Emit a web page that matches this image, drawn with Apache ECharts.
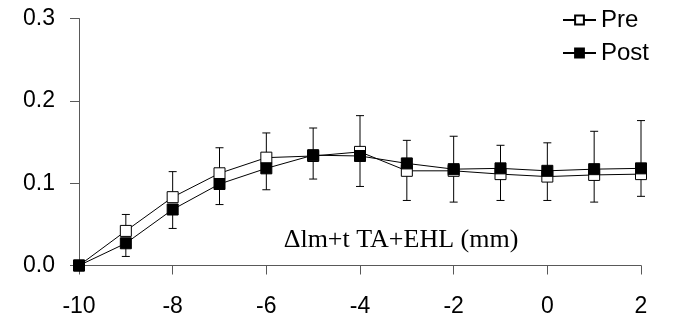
<!DOCTYPE html>
<html>
<head>
<meta charset="utf-8">
<script src="https://cdn.jsdelivr.net/npm/echarts@6/dist/echarts.min.js"></script>
<style>html,body{margin:0;padding:0;background:#fff}#c{width:673px;height:322px}</style>
</head>
<body>
<div id="c"></div>
<script>
const xValues = [-10, -9, -8, -7, -6, -5, -4, -3, -2, -1, 0, 1, 2];
const preValues = [0, 0.042, 0.083, 0.112, 0.131, 0.133, 0.138, 0.115, 0.115, 0.111, 0.108, 0.110, 0.111];
const preErrUp = [0, 0.020, 0.031, 0.031, 0.030, 0.034, 0.044, 0.037, 0.042, 0.035, 0.041, 0.053, 0.065];
const postValues = [0, 0.027, 0.068, 0.099, 0.118, 0.134, 0.133, 0.124, 0.117, 0.118, 0.115, 0.117, 0.118];
const postErrDown = [0, 0.016, 0.023, 0.025, 0.026, 0.029, 0.037, 0.045, 0.040, 0.039, 0.036, 0.040, 0.034];
const seriesNames = ['Pre', 'Post'];
const annotationText = 'Δlm+t TA+EHL (mm)';

const chart = echarts.init(document.getElementById('c'));
const sans = "'Liberation Sans', Arial, sans-serif";
const axisColor = '#595959';

function errRender(params, api) {
  const x = api.value(0), base = api.value(1), end = api.value(2);
  if (base === end) return null;
  const p1 = api.coord([x, base]);
  const p2 = api.coord([x, end]);
  const hw = 4;
  return {
    type: 'group',
    children: [
      { type: 'line', shape: { x1: p1[0], y1: p1[1], x2: p2[0], y2: p2[1] }, style: { stroke: '#000', lineWidth: 1 } },
      { type: 'line', shape: { x1: p2[0] - hw, y1: p2[1], x2: p2[0] + hw, y2: p2[1] }, style: { stroke: '#000', lineWidth: 1 } }
    ]
  };
}

const preData = xValues.map((x, i) => [x, preValues[i]]);
const postData = xValues.map((x, i) => [x, postValues[i]]);
const preErr = xValues.map((x, i) => [x, preValues[i], preValues[i] + preErrUp[i]]);
const postErr = xValues.map((x, i) => [x, postValues[i], postValues[i] - postErrDown[i]]);

chart.setOption({
  animation: false,
  backgroundColor: '#fff',
  grid: { left: 79, right: 32, top: 18.5, bottom: 56.5, containLabel: false },
  legend: {
    data: seriesNames,
    orient: 'vertical',
    left: 562, top: 8, padding: 0,
    itemWidth: 33, itemHeight: 11, itemGap: 9,
    textStyle: { fontFamily: sans, fontSize: 24, color: '#000' }
  },
  xAxis: {
    type: 'value', min: -10, max: 2, interval: 2,
    axisLine: { show: true, onZero: false, lineStyle: { color: axisColor, width: 1 } },
    axisTick: { show: true, inside: false, length: 9, lineStyle: { color: axisColor } },
    splitLine: { show: false },
    axisLabel: { margin: 30, fontFamily: sans, fontSize: 23, color: '#000' }
  },
  yAxis: {
    type: 'value', min: 0, max: 0.3, interval: 0.1,
    axisLine: { show: true, onZero: false, lineStyle: { color: axisColor, width: 1 } },
    axisTick: { show: true, inside: false, length: 9, lineStyle: { color: axisColor } },
    splitLine: { show: false },
    axisLabel: { margin: 24, fontFamily: sans, fontSize: 23, color: '#000', formatter: v => v.toFixed(1) }
  },
  graphic: [{
    type: 'text', x: 401, y: 240, z: 10,
    style: { text: annotationText, font: "26px 'Liberation Serif', 'Times New Roman', serif", fill: '#000', align: 'center', verticalAlign: 'middle' }
  }],
  series: [
    { type: 'custom', name: 'preErr', data: preErr, renderItem: errRender, z: 1, silent: true, encode: { x: 0, y: [1, 2] } },
    { type: 'custom', name: 'postErr', data: postErr, renderItem: errRender, z: 1, silent: true, encode: { x: 0, y: [1, 2] } },
    {
      type: 'line', name: seriesNames[0], data: preData, z: 2,
      symbol: 'rect', symbolSize: 11, showAllSymbol: true,
      lineStyle: { color: '#000', width: 1 },
      itemStyle: { color: '#fff', borderColor: '#000', borderWidth: 1 }
    },
    {
      type: 'line', name: seriesNames[1], data: postData, z: 3,
      symbol: 'rect', symbolSize: 11, showAllSymbol: true,
      lineStyle: { color: '#000', width: 1 },
      itemStyle: { color: '#000', borderColor: '#000', borderWidth: 1 }
    }
  ]
});
</script>
</body>
</html>
